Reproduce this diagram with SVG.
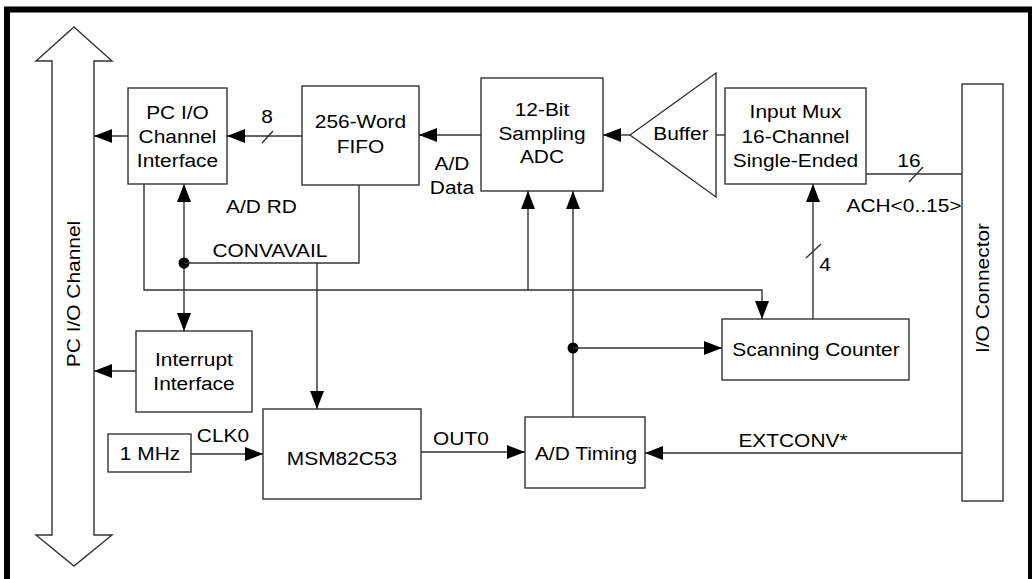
<svg xmlns="http://www.w3.org/2000/svg" width="1032" height="579" viewBox="0 0 1032 579">
<style>
.box{fill:#fff;stroke:#333;stroke-width:1.4}
.ln{fill:none;stroke:#333;stroke-width:1.4}
.t{font-family:"Liberation Sans",Arial,sans-serif;font-size:19px;fill:#000;text-anchor:middle}
.s{transform-box:fill-box;transform-origin:center;transform:scaleX(1.1)}
.dot{fill:#000}
</style>
<defs>
<marker id="ah" markerUnits="userSpaceOnUse" viewBox="0 0 18 14" refX="18" refY="7" markerWidth="18" markerHeight="14" orient="auto">
<path d="M0,0 L18,7 L0,14 z" fill="#000"/>
</marker>
</defs>
<rect x="7" y="9.5" width="1024" height="600" fill="#fff" stroke="#000" stroke-width="6"/>

<g id="pc-io-channel">
<polygon class="box" points="74,27 112,61 94,61 94,535 112,535 74,566 36,535 52,535 52,61 36,61"/>
<text class="t" transform="translate(80,294) rotate(-90) scale(1.1,1)">PC I/O Channel</text>
</g>

<g id="pcio-interface">
<rect class="box" x="128" y="88" width="99" height="96"/>
<text class="t s" x="177.5" y="119">PC I/O</text>
<text class="t s" x="177.5" y="143">Channel</text>
<text class="t s" x="177.5" y="167">Interface</text>
</g>

<g id="fifo">
<rect class="box" x="302" y="86" width="117" height="99"/>
<text class="t s" x="360.5" y="128">256-Word</text>
<text class="t s" x="360.5" y="153">FIFO</text>
</g>

<g id="adc">
<rect class="box" x="481" y="78" width="122" height="113"/>
<text class="t s" x="542" y="116">12-Bit</text>
<text class="t s" x="542" y="140">Sampling</text>
<text class="t s" x="542" y="163">ADC</text>
</g>

<g id="buffer">
<polygon class="box" points="630,135 716,73 716,197"/>
<text class="t s" x="681" y="140">Buffer</text>
</g>

<g id="input-mux">
<rect class="box" x="725" y="88" width="141" height="96"/>
<text class="t s" x="795.5" y="118">Input Mux</text>
<text class="t s" x="795.5" y="143">16-Channel</text>
<text class="t s" x="795.5" y="167">Single-Ended</text>
</g>

<g id="io-connector">
<rect class="box" x="962" y="84" width="41" height="417"/>
<text class="t" transform="translate(989,288) rotate(-90) scale(1.1,1)">I/O Connector</text>
</g>

<g id="scanning-counter">
<rect class="box" x="722" y="319" width="187" height="61"/>
<text class="t s" x="816" y="356">Scanning Counter</text>
</g>

<g id="interrupt-interface">
<rect class="box" x="136" y="331" width="116" height="81"/>
<text class="t s" x="194" y="366">Interrupt</text>
<text class="t s" x="194" y="390">Interface</text>
</g>

<g id="one-mhz">
<rect class="box" x="108" y="434" width="83" height="38"/>
<text class="t s" x="150" y="460">1 MHz</text>
</g>

<g id="msm82c53">
<rect class="box" x="263" y="409" width="158" height="90"/>
<text class="t s" x="342" y="465">MSM82C53</text>
</g>

<g id="ad-timing">
<rect class="box" x="525" y="417" width="120" height="71"/>
<text class="t s" x="586" y="460">A/D Timing</text>
</g>

<g id="connectors">
<path class="ln" d="M128,136 L94,136" marker-end="url(#ah)"/>
<path class="ln" d="M302,136 L227,136" marker-end="url(#ah)"/>
<path class="ln" d="M262,143 L273,131"/>
<text class="t s" x="267" y="123">8</text>
<path class="ln" d="M481,135 L419,135" marker-end="url(#ah)"/>
<text class="t s" x="452" y="170">A/D</text>
<text class="t s" x="452" y="194">Data</text>
<path class="ln" d="M630,135 L603,135" marker-end="url(#ah)"/>
<path class="ln" d="M725,135 L716,135"/>
<path class="ln" d="M866,174 L962,174"/>
<path class="ln" d="M909,182 L923,167"/>
<text class="t s" x="909" y="167">16</text>
<text class="t s" x="904" y="212">ACH&lt;0..15&gt;</text>
<path class="ln" d="M813,319 L813,184" marker-end="url(#ah)"/>
<path class="ln" d="M806,258 L821,244"/>
<text class="t s" x="825" y="271">4</text>
<path class="ln" d="M144,184 L144,290 L762,290 L762,319" marker-end="url(#ah)"/>
<path class="ln" d="M528,290 L528,191" marker-end="url(#ah)"/>
<path class="ln" d="M573,417 L573,191" marker-end="url(#ah)"/>
<circle class="dot" cx="573" cy="348" r="5.5"/>
<path class="ln" d="M573,348 L722,348" marker-end="url(#ah)"/>
<path class="ln" d="M184,263 L184,184" marker-end="url(#ah)"/>
<path class="ln" d="M184,263 L184,331" marker-end="url(#ah)"/>
<circle class="dot" cx="184" cy="263" r="5.5"/>
<path class="ln" d="M359,185 L359,263 L184,263"/>
<path class="ln" d="M317,263 L317,409" marker-end="url(#ah)"/>
<text class="t s" x="261.5" y="213">A/D RD</text>
<text class="t s" x="270" y="257">CONVAVAIL</text>
<path class="ln" d="M136,371 L94,371" marker-end="url(#ah)"/>
<path class="ln" d="M191,454 L263,454" marker-end="url(#ah)"/>
<text class="t s" x="223" y="442">CLK0</text>
<path class="ln" d="M421,452 L525,452" marker-end="url(#ah)"/>
<text class="t s" x="461" y="445">OUT0</text>
<path class="ln" d="M962,453 L645,453" marker-end="url(#ah)"/>
<text class="t s" x="793" y="447">EXTCONV*</text>
</g>
</svg>
